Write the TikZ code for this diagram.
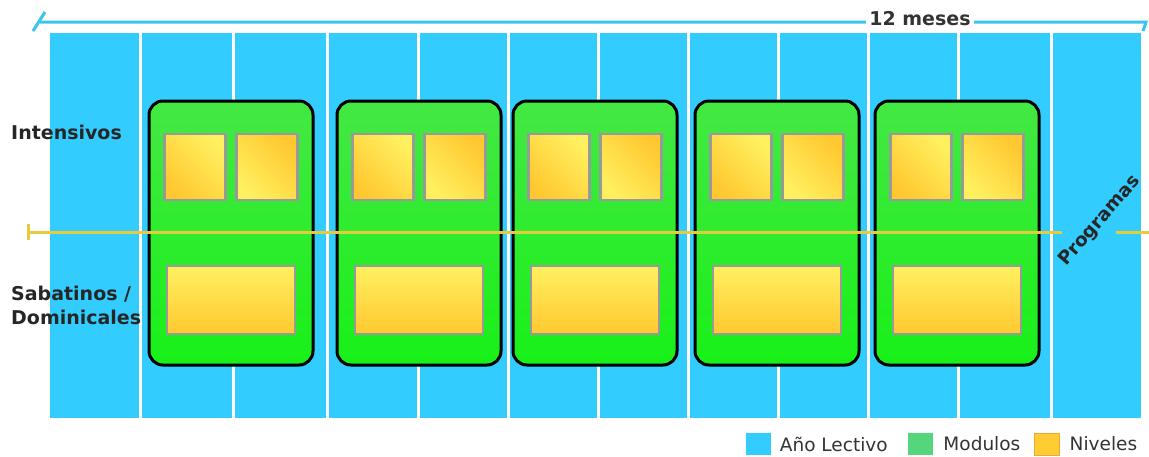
\documentclass[tikz,border=0pt]{standalone}
\usepackage{fontspec}
\setmainfont{DejaVu Sans}
\usetikzlibrary{positioning}

\definecolor{lectivo}{HTML}{33CCFF}
\definecolor{rayaazul}{HTML}{3CC4F0}
\definecolor{modarriba}{HTML}{44E844}
\definecolor{modabajo}{HTML}{18F018}
\definecolor{nivclaro}{HTML}{FFF060}
\definecolor{nivoscuro}{HTML}{FFC830}
\definecolor{nivborde}{HTML}{999999}
\definecolor{rayaamarilla}{HTML}{E6CC3C}
\definecolor{textogris}{HTML}{333333}
\definecolor{leyverde}{HTML}{55D67A}
\definecolor{leyamarillo}{HTML}{FFCC33}
\definecolor{leyborde}{HTML}{F0A830}

\begin{document}
\begin{tikzpicture}[
  x=1pt, y=-1pt,
  modulo/.style={draw=black, line width=3pt, rounded corners=14pt,
    top color=modarriba, bottom color=modabajo,
    minimum width=164pt, minimum height=264pt, inner sep=0pt},
  nivel/.style={draw=nivborde, line width=2.5pt, inner sep=0pt},
  etiqueta/.style={font=\fontsize{19}{24}\selectfont\bfseries, text=black!85, align=left, inner sep=0pt},
  leyenda/.style={minimum width=25pt, minimum height=22pt, inner sep=0pt},
  leytexto/.style={font=\fontsize{18.5}{20}\selectfont, text=textogris, inner sep=0pt}
]
  \useasboundingbox (0,0) rectangle (1149,456);

  % meses del ano lectivo
  \fill[lectivo] (50,33) rectangle (1141,418);
  \foreach \xg in {140,233,327,418,508,598,688,778,868,958,1051}
    \draw[white, line width=3pt] (\xg,33) -- (\xg,418);

  % escala superior
  \coordinate (ti) at (40,22);
  \coordinate (tia) at (33,31);
  \coordinate (tib) at (45,12);
  \coordinate (td) at (1146,22);
  \coordinate (tdb) at (1143,31);
  \draw[rayaazul, line width=3pt] (tia) -- (tib);
  \draw[rayaazul, line width=3pt] (ti) -- (td) -- (tdb);
  \node[fill=white, font=\fontsize{19}{20}\selectfont\bfseries, text=textogris, inner sep=3pt]
    (meses) at (920,19) {12 meses};

  % modulos y niveles
  \foreach \xc [count=\i] in {231,419,595,777,957} {
    \node[modulo] (m\i) at (\xc,233) {};
    \node[nivel, minimum width=61pt, minimum height=66pt,
      top color=nivclaro, bottom color=nivoscuro, shading angle=-45]
      (a\i) at (\xc-36,167) {};
    \node[nivel, minimum width=61pt, minimum height=66pt,
      top color=nivoscuro, bottom color=nivclaro, shading angle=-45]
      (b\i) at (\xc+36,167) {};
    \node[nivel, minimum width=128pt, minimum height=68pt,
      top color=nivclaro, bottom color=nivoscuro]
      (c\i) at (\xc,300) {};
  }

  % programas
  \node[etiqueta, font=\fontsize{18.5}{20}\selectfont\bfseries, rotate=49] (prog) at (1100,221) {Programas};
  \coordinate (pi) at (28,232);
  \coordinate (pia) at (28,224);
  \coordinate (pib) at (28,240);
  \coordinate (pf) at (1062,232);
  \coordinate (pr) at (1116,232);
  \coordinate (prf) at (1149,232);
  \draw[rayaamarilla, line width=3pt] (pia) -- (pib);
  \draw[rayaamarilla, line width=3pt] (pi) -- (pf);
  \draw[rayaamarilla, line width=3pt] (pr) -- (prf);

  \node[etiqueta, anchor=base west] (int) at (11,139) {Intensivos};
  \node[etiqueta, anchor=north west] (sab) at (11,286) {Sabatinos /\\Dominicales};

  % leyenda
  \node[leyenda, fill=lectivo] (lk1) at (758,444) {};
  \node[leytexto, right=9pt of lk1] (lt1) {Año Lectivo};
  \node[leyenda, fill=leyverde, right=20pt of lt1] (lk2) {};
  \node[leytexto, right=10pt of lk2] (lt2) {Modulos};
  \node[leyenda, fill=leyamarillo, draw=leyborde, line width=1pt, right=13pt of lt2] (lk3) {};
  \node[leytexto, right=10pt of lk3] (lt3) {Niveles};
\end{tikzpicture}
\end{document}
